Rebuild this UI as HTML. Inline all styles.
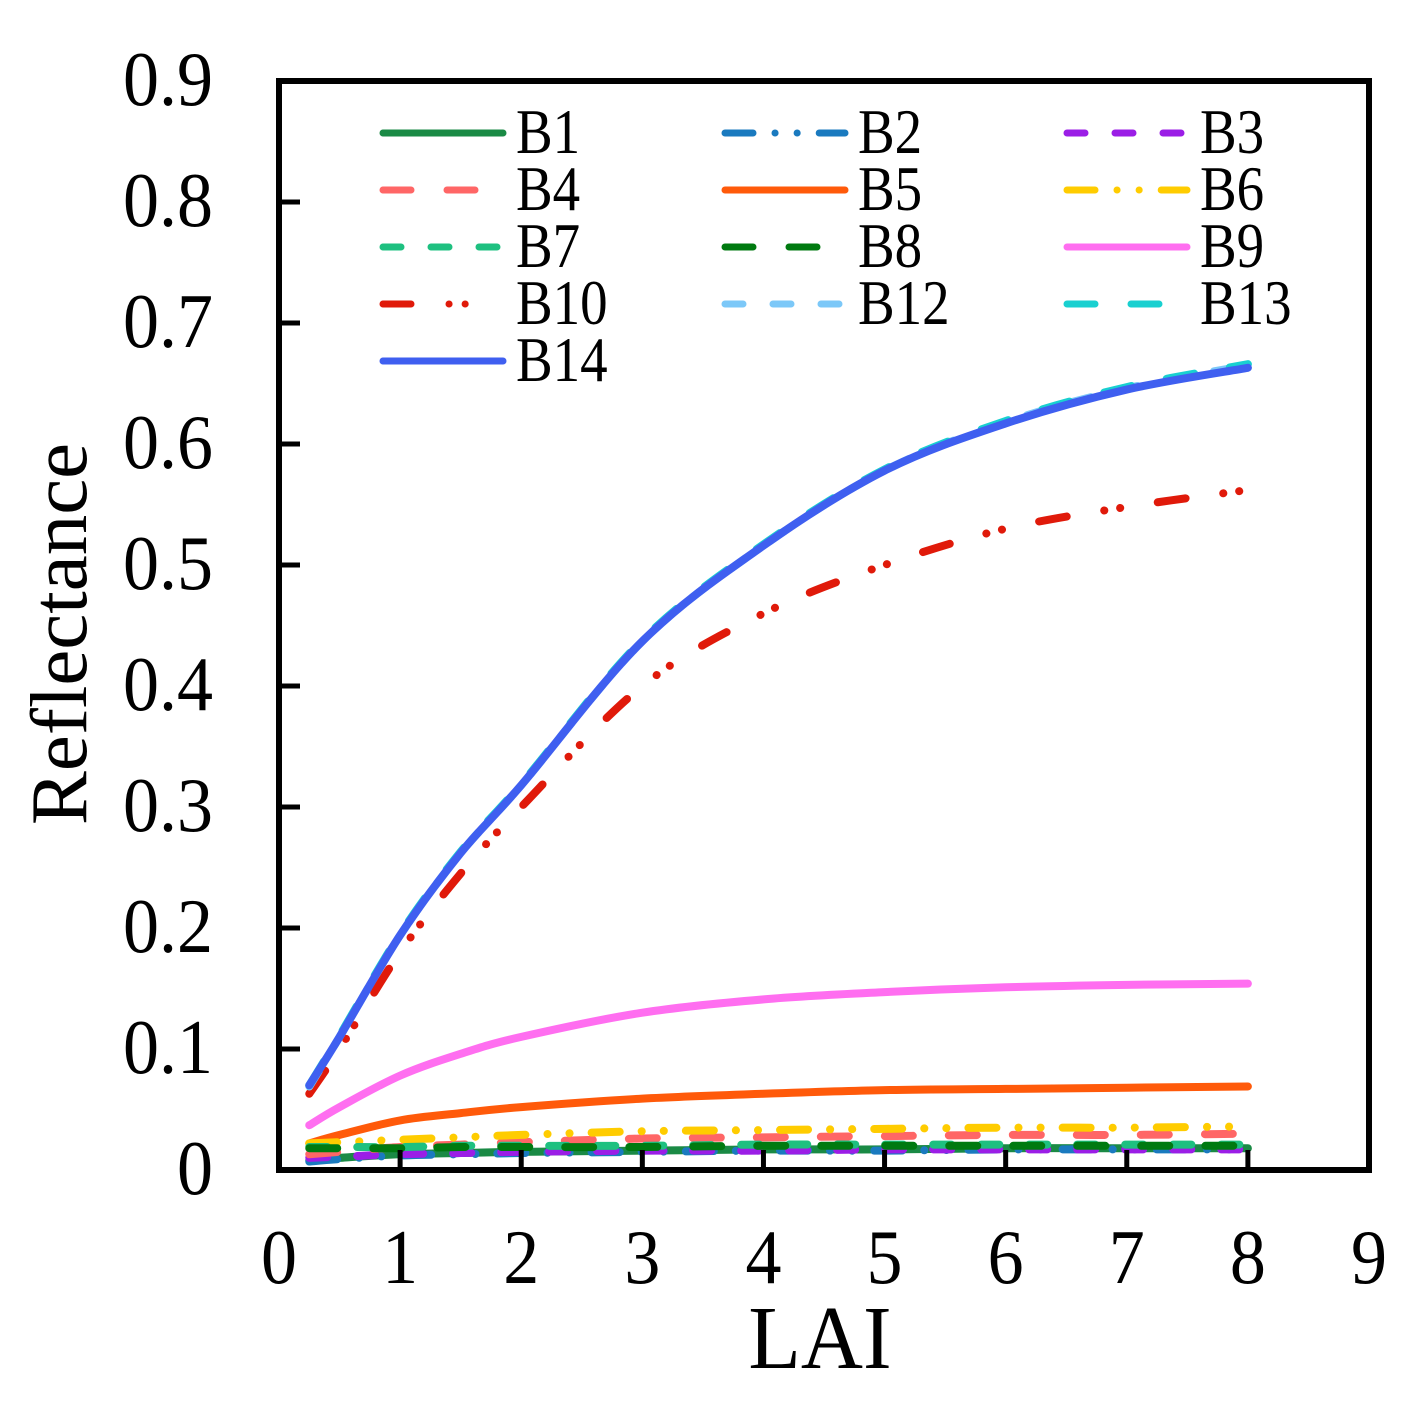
<!DOCTYPE html>
<html><head><meta charset="utf-8"><style>
html,body{margin:0;padding:0;background:#fff;}
svg text{font-family:"Liberation Serif",serif;fill:#000;}
</style></head><body>
<svg id="chart" width="1416" height="1409" viewBox="0 0 1416 1409">
<g id="lines"></g>
<g id="axes"></g>
<g id="legend"></g>
</svg>
<script>
const xs = [0.25, 0.5, 1, 1.5, 2, 3, 4, 5, 6, 7, 8];
const xTicks = ["0","1","2","3","4","5","6","7","8","9"];
const yTicks = ["0","0.1","0.2","0.3","0.4","0.5","0.6","0.7","0.8","0.9"];
const B1  = [0.008,0.010,0.013,0.014,0.015,0.016,0.017,0.017,0.018,0.018,0.018];
const B2  = [0.007,0.009,0.012,0.013,0.014,0.015,0.016,0.016,0.017,0.017,0.017];
const B3  = [0.010,0.011,0.013,0.014,0.015,0.016,0.016,0.017,0.017,0.017,0.017];
const B4  = [0.013,0.015,0.019,0.021,0.023,0.026,0.027,0.028,0.029,0.029,0.030];
const B5  = [0.022,0.029,0.041,0.047,0.052,0.059,0.063,0.066,0.067,0.068,0.069];
const B6  = [0.022,0.023,0.025,0.027,0.029,0.032,0.033,0.034,0.035,0.035,0.036];
const B7  = [0.019,0.019,0.019,0.020,0.020,0.020,0.021,0.021,0.021,0.021,0.021];
const B8  = [0.018,0.018,0.018,0.019,0.019,0.019,0.020,0.020,0.020,0.020,0.020];
const B9  = [0.037,0.052,0.078,0.096,0.110,0.130,0.141,0.147,0.151,0.153,0.154];
const B10 = [0.063,0.100,0.180,0.245,0.300,0.400,0.460,0.500,0.530,0.548,0.562];
const B12 = [0.069,0.110,0.194,0.262,0.318,0.437,0.516,0.578,0.618,0.646,0.665];
const B13 = [0.070,0.111,0.195,0.263,0.319,0.438,0.517,0.579,0.619,0.647,0.666];
const B14 = [0.070,0.110,0.194,0.262,0.318,0.437,0.516,0.578,0.617,0.645,0.663];

const X0=279, X1=1369, Y0=1170, Y1=81;
const sx = v => X0 + v/9*(X1-X0);
const sy = v => Y0 - v/0.9*(Y0-Y1);
const NS="http://www.w3.org/2000/svg";
function mk(tag, parent){const e=document.createElementNS(NS,tag);parent.appendChild(e);return e;}

const series = [
 {name:"B1",data:B1,color:"#1a8a45",dash:""},
 {name:"B2",data:B2,color:"#1a7abf",dash:"28 22 0.1 22 0.1 22"},
 {name:"B3",data:B3,color:"#9b1ee6",dash:"18 30"},
 {name:"B4",data:B4,color:"#ff6666",dash:"28 36"},
 {name:"B5",data:B5,color:"#ff5a0a",dash:""},
 {name:"B6",data:B6,color:"#ffcc00",dash:"28 22 0.1 22 0.1 22"},
 {name:"B7",data:B7,color:"#1ec080",dash:"18 30"},
 {name:"B8",data:B8,color:"#007a10",dash:"28 36"},
 {name:"B9",data:B9,color:"#ff6ef0",dash:""},
 {name:"B10",data:B10,color:"#e01a0a",dash:"28 38 0.1 16 0.1 38"},
 {name:"B12",data:B12,color:"#7cc8f8",dash:"18 30"},
 {name:"B13",data:B13,color:"#19d0d0",dash:"28 36"},
 {name:"B14",data:B14,color:"#3f5ff0",dash:""}
];
function pathFor(d){
  const p=xs.map((x,i)=>[sx(x),sy(d[i])]);
  let s="M"+p[0][0]+","+p[0][1];
  for(let i=0;i<p.length-1;i++){
    const a=p[Math.max(i-1,0)],b=p[i],c=p[i+1],e=p[Math.min(i+2,p.length-1)];
    const c1=[b[0]+(c[0]-a[0])/6,b[1]+(c[1]-a[1])/6];
    const c2=[c[0]-(e[0]-b[0])/6,c[1]-(e[1]-b[1])/6];
    s+=" C"+c1[0]+","+c1[1]+" "+c2[0]+","+c2[1]+" "+c[0]+","+c[1];
  }
  return s;
}
const lines=document.getElementById("lines");
series.forEach(s=>{
  const p=mk("path",lines);
  p.setAttribute("d",pathFor(s.data));
  p.setAttribute("fill","none");
  p.setAttribute("stroke",s.color);
  p.setAttribute("stroke-width","8");
  p.setAttribute("stroke-linecap","round");
  if(s.dash)p.setAttribute("stroke-dasharray",s.dash);
  
  
});

function txt(parent,x,y,size,anchor,str,sy){
  const t=mk("text",parent);
  t.setAttribute("transform","translate("+x+","+y+") scale(1,"+sy+")");
  t.setAttribute("text-anchor",anchor);t.setAttribute("font-size",size);
  t.textContent=str;
  return t;
}

const axes=document.getElementById("axes");
const frame=mk("rect",axes);
frame.setAttribute("x",X0);frame.setAttribute("y",Y1);
frame.setAttribute("width",X1-X0);frame.setAttribute("height",Y0-Y1);
frame.setAttribute("fill","none");frame.setAttribute("stroke","#000");frame.setAttribute("stroke-width","6");


xTicks.forEach((t,i)=>{
  const x=sx(+t);
  if(i>0&&i<xTicks.length-1){
    const l=mk("line",axes);
    l.setAttribute("x1",x);l.setAttribute("x2",x);l.setAttribute("y1",Y0);l.setAttribute("y2",Y0-20);
    l.setAttribute("stroke","#000");l.setAttribute("stroke-width","5");
    
    
  }
  const tx=txt(axes,x,1283,72,"middle",t,1.08);
  
  
});
yTicks.forEach((t,i)=>{
  const y=sy(+t);
  if(i>0&&i<yTicks.length-1){
    const l=mk("line",axes);
    l.setAttribute("x1",X0);l.setAttribute("x2",X0+21);l.setAttribute("y1",y);l.setAttribute("y2",y);
    l.setAttribute("stroke","#000");l.setAttribute("stroke-width","5");
    
    
  }
  const tx=txt(axes,213,y+24,72,"end",t,1.08);
  
  
});
const xt=txt(axes,820,1368,86,"middle","LAI",1.05);


const yt=mk("text",axes);
yt.setAttribute("transform","translate(86,634) rotate(-90)");yt.setAttribute("text-anchor","middle");yt.setAttribute("font-size","81");
yt.textContent="Reflectance";



const legend=document.getElementById("legend");
series.forEach((s,i)=>{
  const col=i%3,row=Math.floor(i/3);
  const x=383+col*342,y=133+row*57;
  const l=mk("line",legend);
  l.setAttribute("x1",x);l.setAttribute("x2",x+120);l.setAttribute("y1",y);l.setAttribute("y2",y);
  l.setAttribute("stroke",s.color);l.setAttribute("stroke-width","7");l.setAttribute("stroke-linecap","round");
  if(s.dash)l.setAttribute("stroke-dasharray",s.dash);
  
  
  const t=txt(legend,x+133,y+20,55,"start",s.name,1.15);
  
  
});
</script>
</body></html>
